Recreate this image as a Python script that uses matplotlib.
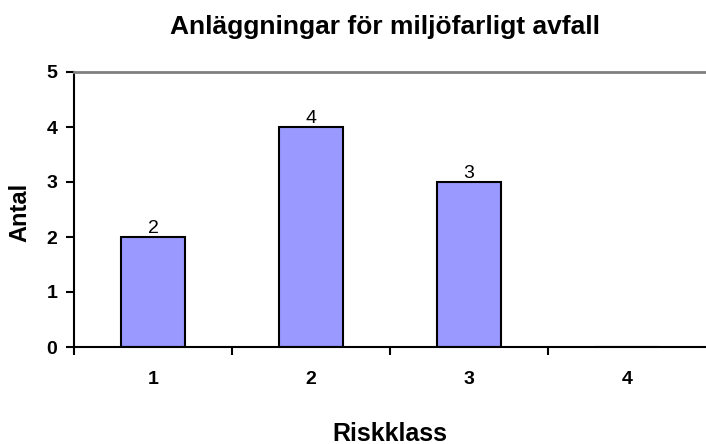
import matplotlib
matplotlib.use("Agg")
import matplotlib.pyplot as plt
import numpy as np

# Data
categories = ["1", "2", "3", "4"]
counts = [2, 4, 3, 0]
y_ticks = [0, 1, 2, 3, 4, 5]

plt.rcParams["font.family"] = ["Liberation Sans", "DejaVu Sans"]

fig = plt.figure(figsize=(7.06, 4.44), dpi=100)
ax = fig.add_axes([74 / 706, 97 / 444, 632 / 706, 275 / 444])

x = np.arange(len(categories))
ax.bar(x, counts, width=0.4, color="#9999FF", edgecolor="black", linewidth=1.5)

# Value labels above the non-empty bars
for xi, val in zip(x, counts):
    if val > 0:
        ax.text(xi, val, str(val), ha="center", va="bottom", fontsize=14)

ax.set_xlim(-0.5, len(categories) - 0.5)
ax.set_ylim(0, 5)

# x ticks at category boundaries, labels centered on categories
ax.set_xticks(np.arange(len(categories)) - 0.5)
ax.set_xticklabels([])
ax.set_xticks(x, minor=True)
ax.set_xticklabels(categories, minor=True, fontsize=14, fontweight="bold")
ax.tick_params(axis="x", which="major", direction="out", length=6, width=1.5, color="black")
ax.tick_params(axis="x", which="minor", length=0, pad=17)

ax.set_yticks(y_ticks)
ax.set_yticklabels([str(t) for t in y_ticks], fontsize=14, fontweight="bold")
ax.tick_params(axis="y", direction="out", length=6, width=1.5, color="black", pad=6)

ax.spines["right"].set_visible(False)
ax.spines["top"].set_color("#808080")
ax.spines["top"].set_linewidth(2)
ax.spines["left"].set_linewidth(1.5)
ax.spines["bottom"].set_linewidth(1.5)

fig.text(390 / 706, 1 - 441 / 444, "Riskklass", ha="center", va="baseline",
         fontsize=18, fontweight="bold")
fig.text(20 / 706, 1 - 212 / 444, "Antal", ha="center", va="center",
         rotation=90, fontsize=17, fontweight="bold")
fig.text(385 / 706, 1 - 34 / 444, "Anläggningar för miljöfarligt avfall",
         ha="center", va="baseline", fontsize=19, fontweight="bold")

fig.savefig("out.png", dpi=100)
